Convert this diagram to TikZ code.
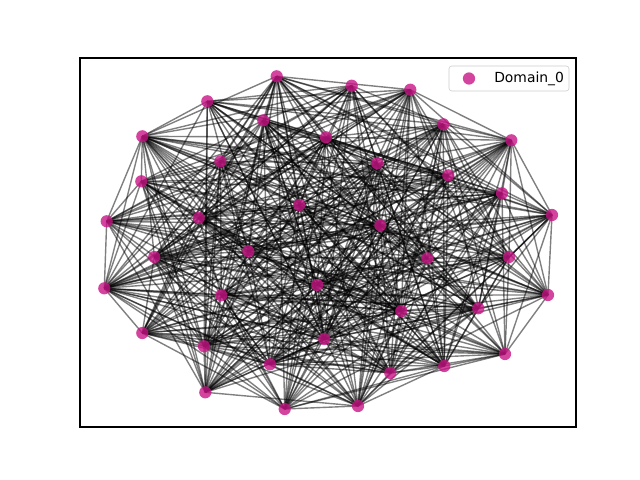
\documentclass[tikz,border=0pt]{standalone}
\usepackage{fontspec}
\setmainfont{DejaVu Sans}
\definecolor{domaincol}{RGB}{199,21,133}
\definecolor{legendgray}{RGB}{204,204,204}
\tikzset{
    edge/.style={black, opacity=0.5, line width=1pt},
    vertex/.style={circle, fill=domaincol, fill opacity=0.8, inner sep=0pt, minimum size=8.8pt},
}
\begin{document}
\begin{tikzpicture}[x=0.72pt, y=-0.72pt]
    \useasboundingbox (0,0) rectangle (640,480);

    % node positions
    \foreach \n/\px/\py in {1/276.7/76.3, 2/207.3/101.3, 3/263.3/120.3, 4/326/137.3,
        5/142.3/136.3, 6/220.3/161.3, 7/141.3/181.3, 8/299.3/205, 9/106.7/221.3,
        10/198.7/218, 11/351.7/85.7, 12/410.3/89.7, 13/443.3/124.3, 14/511.3/140.3,
        15/377.3/163.3, 16/448.3/175.3, 17/502/193.3, 18/552/215, 19/380.3/225.3,
        20/154.3/257, 21/248.3/251.3, 22/104.3/288.3, 23/221.3/295.3, 24/317.3/285,
        25/142.3/333, 26/204/346.3, 27/270/364.3, 28/324.3/339, 29/205.3/392.3,
        30/284.7/409, 31/427.3/258.3, 32/509/257, 33/548/295, 34/401.3/311,
        35/478.3/308.3, 36/505/354, 37/444.3/366, 38/390.3/373, 39/358/406}
        \coordinate (v\n) at (\px,\py);

    % edges
    \pgfmathsetseed{7}
    \foreach \i in {1,...,38} {
        \pgfmathtruncatemacro\jstart{\i+1}
        \foreach \j in {\jstart,...,39} {
            \pgfmathtruncatemacro\keep{rnd<0.66 ? 1 : 0}
            \ifnum\keep=1 \draw[edge] (v\i) -- (v\j); \fi
        }
    }

    % nodes
    \foreach \n in {1,...,39}
        \node[vertex] (n\n) at (v\n) {};

    % axes
    \draw[line width=0.8pt] (80,58) rectangle (576,427);

    % legend
    \draw[legendgray, fill=white, fill opacity=0.8, rounded corners=2pt] (449,66) rectangle (569,91);
    \node[vertex] (key) at (469,78.5) {};
    \node[anchor=west, inner sep=0pt, font=\fontsize{10}{12}\selectfont] (keytext) at (494,78.5) {Domain\_0};
\end{tikzpicture}
\end{document}
